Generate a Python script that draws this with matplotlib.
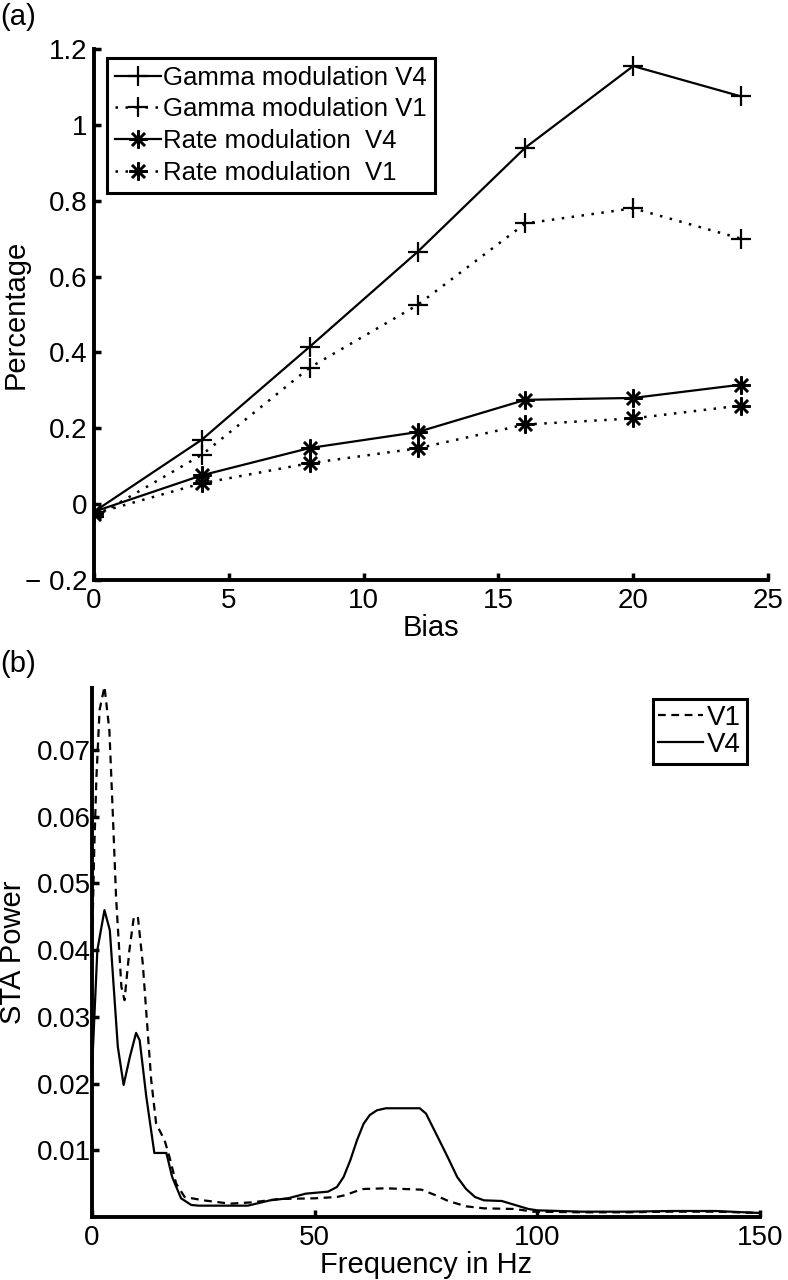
import matplotlib
matplotlib.use("Agg")
import matplotlib.pyplot as plt

plt.rcParams['font.family'] = ['Liberation Sans', 'DejaVu Sans']

# ---------------- data: panel (a) ----------------
bias = [0, 4, 8, 12, 16, 20, 24]
gamma_v4 = [-0.02, 0.17, 0.415, 0.665, 0.94, 1.155, 1.075]
gamma_v1 = [-0.035, 0.13, 0.36, 0.525, 0.74, 0.78, 0.70]
rate_v4 = [-0.02, 0.076, 0.148, 0.19, 0.275, 0.28, 0.315]
rate_v1 = [-0.025, 0.055, 0.108, 0.147, 0.21, 0.226, 0.26]
labels_a = ['Gamma modulation V4', 'Gamma modulation V1',
            'Rate modulation  V4', 'Rate modulation  V1']
xticks_a = [0, 5, 10, 15, 20, 25]
yticks_a = [-0.2, 0, 0.2, 0.4, 0.6, 0.8, 1.0, 1.2]
ytlabels_a = ['\u2212 0.2', '0', '0.2', '0.4', '0.6', '0.8', '1', '1.2']

# ---------------- data: panel (b) ----------------
freq_v1 = [0, 0.5, 1.0, 1.7, 2.8, 3.9, 4.7, 5.4, 6.2, 6.6, 7.3, 8.4, 9.4, 10.3,
           11.4, 12.2, 13.3, 14.4, 16.3, 17.4, 18.9, 20.8, 25, 31, 36, 42, 50,
           55, 57, 59, 61, 66, 74, 77, 80, 84, 88, 95, 99, 110, 120, 130, 140, 150]
power_v1 = [0.040, 0.055, 0.066, 0.076, 0.0795, 0.073, 0.060, 0.048, 0.039,
            0.0345, 0.0325, 0.040, 0.045, 0.045, 0.038, 0.0306, 0.0205, 0.014,
            0.0115, 0.009, 0.005, 0.003, 0.0025, 0.0020, 0.0022, 0.0027, 0.0028,
            0.0030, 0.0033, 0.0038, 0.0042, 0.0043, 0.0041, 0.0033, 0.0024,
            0.0016, 0.0013, 0.0012, 0.0008, 0.0007, 0.0007, 0.0008, 0.0008, 0.0006]
freq_v4 = [0, 1.2, 2.8, 4.0, 5.8, 7.1, 8.5, 9.9, 10.7, 12.2, 14, 16.7, 18, 20,
           22.3, 24, 30, 35, 40, 44, 48, 53, 55, 56.5, 58, 59.5, 61, 62.4, 64,
           66, 73.6, 75, 76.5, 78, 80, 82, 84, 86, 88, 92, 95, 98, 100, 110,
           120, 130, 140, 150]
power_v4 = [0.022, 0.040, 0.046, 0.043, 0.0255, 0.0198, 0.024, 0.0276, 0.0265,
            0.018, 0.0096, 0.0096, 0.006, 0.0028, 0.0018, 0.0017, 0.0017,
            0.0017, 0.0025, 0.0028, 0.0035, 0.0038, 0.0045, 0.0060, 0.0085,
            0.0115, 0.0140, 0.0153, 0.0160, 0.0163, 0.0163, 0.0155, 0.0135,
            0.0115, 0.0088, 0.0060, 0.0042, 0.0030, 0.0025, 0.0024, 0.0018,
            0.0012, 0.0010, 0.0008, 0.0008, 0.0009, 0.0009, 0.0006]
xticks_b = [0, 50, 100, 150]
yticks_b = [0.01, 0.02, 0.03, 0.04, 0.05, 0.06, 0.07]
ytlabels_b = ['0.01', '0.02', '0.03', '0.04', '0.05', '0.06', '0.07']

W, H = 788, 1280
fig = plt.figure(figsize=(W / 100, H / 100), dpi=100)

def px_axes(l, t, r, b):
    return fig.add_axes([l / W, 1 - b / H, (r - l) / W, (b - t) / H])

def style(ax, ypad):
    for s in ['top', 'right']:
        ax.spines[s].set_visible(False)
    for s in ['left', 'bottom']:
        ax.spines[s].set_linewidth(2.8)
        ax.spines[s].set_capstyle('projecting')
    ax.tick_params(direction='in', length=5, width=2.5, labelsize=20)
    ax.tick_params(axis='y', pad=ypad)
    ax.tick_params(axis='x', pad=6)

# ---------------- panel (a) ----------------
axa = px_axes(94, 49, 768, 580)
ast = (8, 2, 0)
axa.plot(bias, gamma_v4, color='black', lw=1.6, ls='-', marker='+', ms=14, mew=1.6, label=labels_a[0])
axa.plot(bias, gamma_v1, color='black', lw=1.8, ls=(0, (1, 3)), marker='+', ms=14, mew=1.6, label=labels_a[1])
axa.plot(bias, rate_v4, color='black', lw=1.6, ls='-', marker=ast, ms=13, mew=1.8, label=labels_a[2])
axa.plot(bias, rate_v1, color='black', lw=1.8, ls=(0, (1, 3)), marker=ast, ms=13, mew=1.8, label=labels_a[3])
axa.set_xlim(0, 25)
axa.set_ylim(-0.2, 1.2)
axa.set_xticks(xticks_a)
axa.set_yticks(yticks_a)
axa.set_yticklabels(ytlabels_a)
style(axa, 5)
axa.set_xlabel('Bias', fontsize=21, labelpad=0)
axa.set_ylabel('Percentage', fontsize=21)
axa.yaxis.set_label_coords(-0.095, 0.5)
leg = axa.legend(loc='upper left', bbox_to_anchor=(0.019, 0.983), borderaxespad=0,
                 fontsize=18.5, handlelength=1.8, handletextpad=0.1, labelspacing=0.3,
                 borderpad=0.3, fancybox=False, framealpha=1, edgecolor='black')
leg.get_frame().set_linewidth(2.2)

# ---------------- panel (b) ----------------
axb = px_axes(92, 688, 760, 1217)
axb.plot(freq_v1, power_v1, color='black', lw=1.6, ls=(0, (3.5, 2.5)), label='V1')
axb.plot(freq_v4, power_v4, color='black', lw=1.6, ls='-', label='V4')
axb.set_xlim(0, 150)
axb.set_ylim(0, 0.0793)
axb.set_xticks(xticks_b)
axb.set_yticks(yticks_b)
axb.set_yticklabels(ytlabels_b)
style(axb, 1)
axb.set_xlabel('Frequency in Hz', fontsize=21, labelpad=0)
axb.set_ylabel('STA Power', fontsize=21)
axb.yaxis.set_label_coords(-0.098, 0.5)
legb = axb.legend(loc='upper right', bbox_to_anchor=(0.98, 0.979), borderaxespad=0,
                  fontsize=20, handlelength=1.6, handletextpad=0.15, labelspacing=0.05,
                  borderpad=0.2, fancybox=False, framealpha=1, edgecolor='black')
legb.get_frame().set_linewidth(2.2)

fig.text(0.0, 1 - 3 / H, '(a)', fontsize=21, ha='left', va='top')
fig.text(0.0, 1 - 650 / H, '(b)', fontsize=21, ha='left', va='top')

fig.savefig('out.png', dpi=100)
